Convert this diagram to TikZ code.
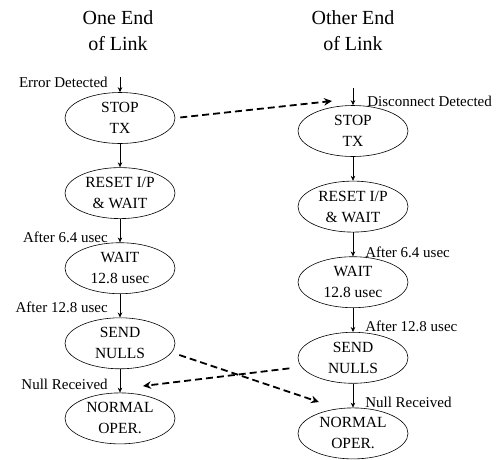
\documentclass[tikz,border=0pt]{standalone}
\usepackage{fontspec}
\setmainfont{Liberation Serif}
\usetikzlibrary{arrows.meta,positioning,shapes.geometric}

\begin{document}
\begin{tikzpicture}[x=1pt,y=-1pt,
   state/.style={draw,ellipse,line width=0.6pt,minimum width=110pt,
                 minimum height=51pt,inner sep=0pt,align=center,
                 font=\fontsize{15.5}{21}\selectfont},
   title/.style={align=center,font=\fontsize{20}{26}\selectfont},
   lbl/.style={font=\fontsize{15}{18}\selectfont,inner sep=0pt},
   flow/.style={-{Stealth[length=5pt,width=4.5pt]},line width=0.6pt},
   link/.style={dash pattern=on 7pt off 4pt,line width=1.8pt,
                -{Stealth[length=8pt,width=7.5pt]}}]
  \useasboundingbox (0,0) rectangle (504,459);
  % column headings
  \node[title] (tl) at (118,31) {One End\\of Link};
  \node[title] (tr) at (353,31) {Other End\\of Link};

  % one end of link
  \node[state] (l1) at (120,118) {STOP\\TX};
  \node[state,below=23.5pt of l1] (l2) {RESET I/P\\\& WAIT};
  \node[state,below=23.5pt of l2] (l3) {WAIT\\12.8 usec};
  \node[state,below=23.5pt of l3] (l4) {SEND\\NULLS};
  \node[state,below=23.5pt of l4] (l5) {NORMAL\\OPER.};
  \coordinate (lin) at (120,77);
  \draw[flow] (lin) -- (l1) node[lbl,pos=0.35,left=12pt] {Error Detected};
  \draw[flow] (l1) -- (l2);
  \draw[flow] (l2) -- (l3) node[lbl,pos=0.8,left=12pt] {After 6.4 usec};
  \draw[flow] (l3) -- (l4) node[lbl,pos=0.55,left=12pt] {After 12.8 usec};
  \draw[flow] (l4) -- (l5) node[lbl,pos=0.64,left=12pt] {Null Received};

  % other end of link
  \node[state] (r1) at (353,131) {STOP\\TX};
  \node[state,below=24pt of r1] (r2) {RESET I/P\\\& WAIT};
  \node[state,below=24pt of r2] (r3) {WAIT\\12.8 usec};
  \node[state,below=24pt of r3] (r4) {SEND\\NULLS};
  \node[state,below=24pt of r4] (r5) {NORMAL\\OPER.};
  \coordinate (rin) at (353,88);
  \draw[flow] (rin) -- (r1) node[lbl,pos=0.75,right=14pt] {Disconnect Detected};
  \draw[flow] (r1) -- (r2);
  \draw[flow] (r2) -- (r3) node[lbl,pos=0.82,right=12pt] {After 6.4 usec};
  \draw[flow] (r3) -- (r4) node[lbl,pos=0.77,right=12pt] {After 12.8 usec};
  \draw[flow] (r4) -- (r5) node[lbl,pos=0.77,right=12pt] {Null Received};

  % signalling between the two ends
  \coordinate (dtip) at (332,101);
  \coordinate (ntip) at (319,402);
  \coordinate (rtip) at (143,386);
  \draw[link,shorten <=5pt] (l1.east) -- (dtip);
  \draw[link,shorten <=8pt] (l4.-10) -- (ntip);
  \draw[link,shorten <=12pt] (r4.190) -- (rtip);
\end{tikzpicture}
\end{document}
